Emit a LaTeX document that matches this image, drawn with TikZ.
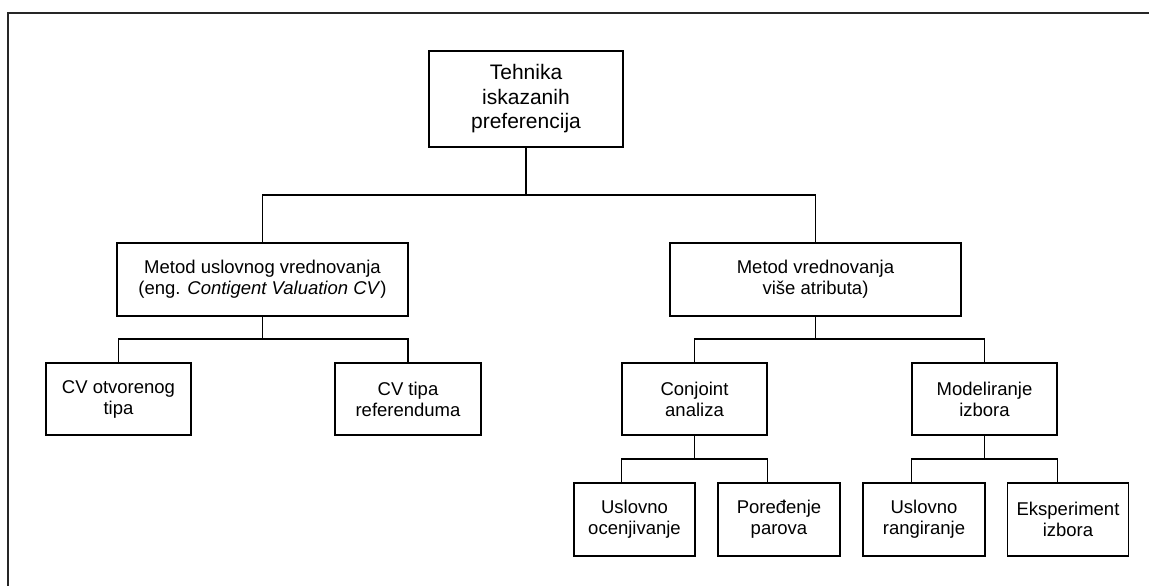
\documentclass[tikz,border=0pt]{standalone}
\usepackage{fontspec}
\setmainfont{Liberation Sans}
\begin{document}
\begin{tikzpicture}[x=1pt,y=-1pt,
  box/.style={draw=black,line width=1.8pt,rectangle,align=center,inner sep=0pt,
    font=\fontsize{18.5}{21}\selectfont},
  link/.style={draw=black,line width=1.1pt},
  frameline/.style={draw=black!85,line width=2pt}]
\useasboundingbox (0,0) rectangle (1149,586);
\draw[frameline] (8,590) -- (8,13.5) -- (1152,13.5);
% nodes
\node[box,minimum width=194pt,minimum height=96pt,font=\fontsize{21}{24.5}\selectfont] (top) at (526,99) {Tehnika\\iskazanih\\preferencija};
\node[box,minimum width=291pt,minimum height=73pt] (m1) at (262.5,279.5) {Metod uslovnog vrednovanja\\(eng. \textit{Contigent Valuation CV})};
\node[box,minimum width=291pt,minimum height=73pt] (m2) at (815.5,279.5) {Metod vrednovanja\\više atributa)};
\node[box,minimum width=145pt,minimum height=72pt] (cv1) at (118.5,399) {CV otvorenog\\tipa};
\node[box,minimum width=146pt,minimum height=72pt] (cv2) at (408,399) {CV tipa\\referenduma};
\node[box,minimum width=145pt,minimum height=72pt] (conj) at (694.5,399) {Conjoint\\analiza};
\node[box,minimum width=145pt,minimum height=72pt] (mod) at (984.5,399) {Modeliranje\\izbora};
\node[box,minimum width=121pt,minimum height=73pt] (l1) at (634.5,519.5) {Uslovno\\ocenjivanje};
\node[box,minimum width=122pt,minimum height=73pt] (l2) at (779,519.5) {Poređenje\\parova};
\node[box,minimum width=122pt,minimum height=73pt] (l3) at (924,519.5) {Uslovno\\rangiranje};
\node[box,minimum width=121pt,minimum height=73pt] (l4) at (1068,519.5) {Eksperiment\\izbora};
% junctions
\coordinate (j0) at (526,195);
\coordinate (j1) at (262.5,339);
\coordinate (j2) at (815.5,339);
\coordinate (j3) at (694.5,459);
\coordinate (j4) at (984.5,459);
% connectors
\draw[link] (top.south) -- (j0);
\draw[link] (m1.north) |- (j0) -| (m2.north);
\draw[link] (m1.south) -- (j1);
\draw[link] (cv1.north) |- (j1) -| (cv2.north);
\draw[link] (m2.south) -- (j2);
\draw[link] (conj.north) |- (j2) -| (mod.north);
\draw[link] (conj.south) -- (j3);
\draw[link] (l1.north -| conj.west) |- (j3) -| (l2.north -| conj.east);
\draw[link] (mod.south) -- (j4);
\draw[link] (l3.north -| mod.west) |- (j4) -| (l4.north -| mod.east);
\end{tikzpicture}
\end{document}
